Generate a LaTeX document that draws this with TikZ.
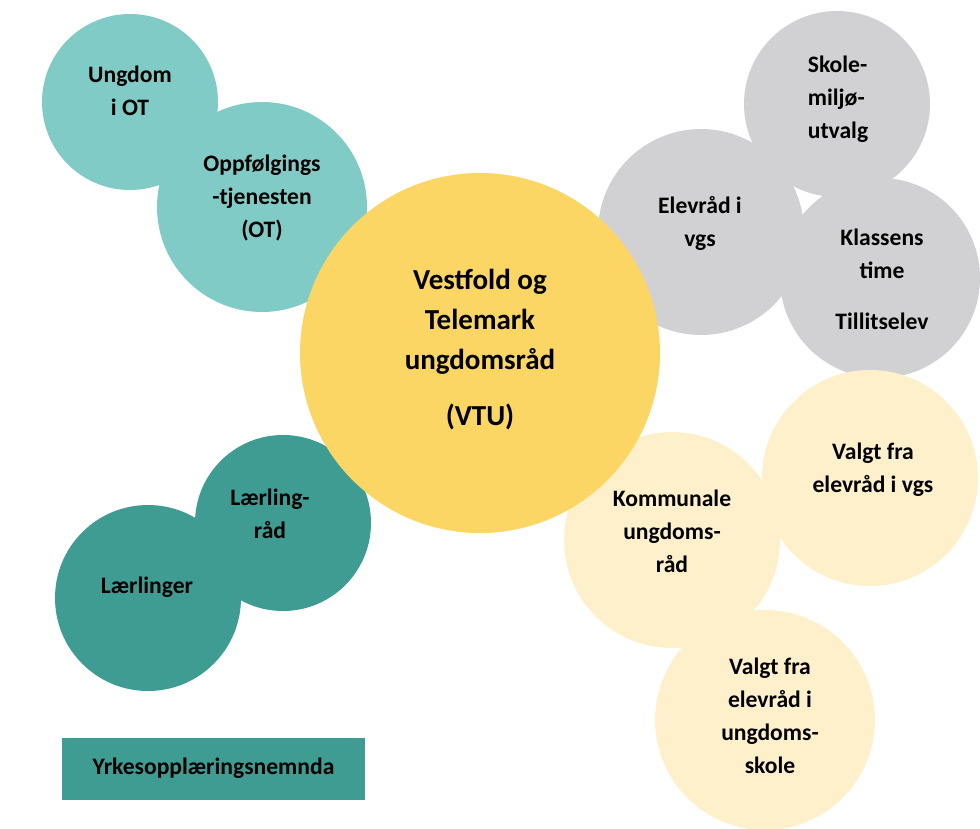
\documentclass[tikz,border=0pt]{standalone}
\usepackage{fontspec}
\setmainfont{Carlito}
\usetikzlibrary{shapes}

\definecolor{otteal}{HTML}{80CBC5}
\definecolor{darkteal}{HTML}{3F9C93}
\definecolor{vtuyellow}{HTML}{FBD665}
\definecolor{vgsgrey}{HTML}{D1D1D3}
\definecolor{paleyellow}{HTML}{FDF0CB}

\begin{document}
\begin{tikzpicture}[x=1pt,y=-1pt]
	  \tikzstyle{bubble}=[circle,inner sep=0pt]
	  \tikzstyle{otbubble}=[bubble,fill=otteal]
	  \tikzstyle{apprentice}=[bubble,fill=darkteal]
	  \tikzstyle{school}=[bubble,fill=vgsgrey]
	  \tikzstyle{elected}=[bubble,fill=paleyellow]
	  \tikzstyle{centre}=[bubble,fill=vtuyellow,minimum size=360pt]
	  \tikzstyle{bubbletext}=[align=center,inner sep=0pt,
				  font=\bfseries\fontsize{23.6}{33}\selectfont]

	\useasboundingbox (0,0) rectangle (980,829);

	% left: oppfolgingstjenesten
	\node (ungdom_ot)[otbubble,minimum size=176pt] at (130,102) {};
	\node (ot_service)[otbubble,minimum size=210pt] at (262,207) {};

	% left: laerlinger
	\node (laerling_rad)[apprentice,minimum size=176pt] at (283,523) {};
	\node (laerlinger)[apprentice,minimum size=186pt] at (148,598) {};
	\node (yrkes)[rectangle,fill=darkteal,minimum width=303pt,minimum height=62pt] at (213.5,768.5) {};

	% right: skole
	\node (skolemiljo)[school,minimum size=186pt] at (837,104) {};
	\node (elevrad_vgs)[school,minimum size=206pt] at (701,232) {};
	\node (klassens_time)[school,minimum size=200pt] at (880,278) {};

	% right: valgt
	\node (valgt_vgs)[elected,minimum size=216pt] at (870,478) {};
	\node (kommunale)[elected,minimum size=216pt] at (672,540) {};
	\node (valgt_ungdom)[elected,minimum size=220pt] at (765,720) {};

	% centre
	\node (vtu)[centre] at (480,353) {};

	% texts
	\node (ungdom_ot_txt)[bubbletext] at (130,91) {Ungdom\\i OT};
	\node (ot_service_txt)[bubbletext] at (262,198) {Oppfølgings\\-tjenesten\\(OT)};
	\node (laerling_rad_txt)[bubbletext] at (270,514) {Lærling-\\råd};
	\node (laerlinger_txt)[bubbletext] at (147,587) {Lærlinger};
	\node (yrkes_txt)[bubbletext] at (yrkes.center) {Yrkesopplæringsnemnda};
	\node (skolemiljo_txt)[bubbletext,align=left] at (838,99) {Skole-\\miljø-\\utvalg};
	\node (elevrad_vgs_txt)[bubbletext] at (700,223) {Elevråd i\\vgs};
	\node (klassens_time_txt)[bubbletext] at (882,279) {Klassens\\time\\[18pt]Tillitselev};
	\node (valgt_vgs_txt)[bubbletext] at (873,470) {Valgt fra\\elevråd i vgs};
	\node (kommunale_txt)[bubbletext] at (672,531) {Kommunale\\ungdoms-\\råd};
	\node (valgt_ungdom_txt)[bubbletext] at (770,716) {Valgt fra\\elevråd i\\ungdoms-\\skole};
	\node (vtu_txt)[bubbletext,font=\bfseries\fontsize{29}{40}\selectfont] at (480,350) {Vestfold og\\Telemark\\ungdomsråd\\[16pt](VTU)};

\end{tikzpicture}
\end{document}
